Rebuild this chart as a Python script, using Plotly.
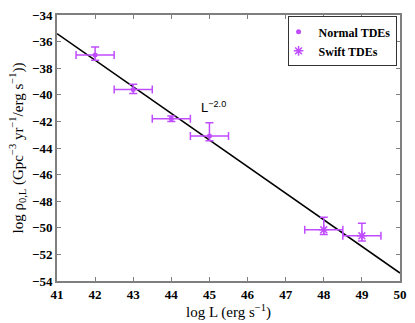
import plotly.graph_objects as go

# Normal TDEs
normal_logL = [42, 43, 44, 45]
normal_rho = [-37.0, -39.6, -41.8, -43.1]
normal_err_up = [0.6, 0.4, 0.2, 1.0]
normal_err_down = [0.4, 0.3, 0.2, 0.35]
normal_err_x = [0.5, 0.5, 0.5, 0.5]

# Swift TDEs
swift_logL = [48, 49]
swift_rho = [-50.15, -50.6]
swift_err_up = [0.95, 0.95]
swift_err_down = [0.35, 0.4]
swift_err_x = [0.5, 0.5]

# power-law fit, slope -2.0
fit_logL = [41, 50]
fit_rho = [-35.4, -53.4]

purple = "#c04cff"
serif = "Liberation Serif, Times New Roman, serif"

fig = go.Figure()

fig.add_trace(go.Scatter(
    x=fit_logL, y=fit_rho, mode="lines",
    line=dict(color="black", width=1.5), showlegend=False, hoverinfo="skip"
))

fig.add_trace(go.Scatter(
    x=normal_logL, y=normal_rho, mode="markers", name="<b>Normal TDEs</b>",
    marker=dict(symbol="circle", size=5, color=purple),
    error_y=dict(type="data", symmetric=False, array=normal_err_up,
                 arrayminus=normal_err_down, color=purple, thickness=1.5, width=4),
    error_x=dict(type="data", array=normal_err_x, color=purple, thickness=1.5, width=4),
))

fig.add_trace(go.Scatter(
    x=swift_logL, y=swift_rho, mode="markers", name="<b>Swift TDEs</b>",
    marker=dict(symbol="asterisk-open", size=8, color=purple,
                line=dict(color=purple, width=1.5)),
    error_y=dict(type="data", symmetric=False, array=swift_err_up,
                 arrayminus=swift_err_down, color=purple, thickness=1.5, width=4),
    error_x=dict(type="data", array=swift_err_x, color=purple, thickness=1.5, width=4),
))

fig.add_annotation(
    x=45.1, y=-40.9, text="L<sup>−2.0</sup>", showarrow=False,
    font=dict(family="Liberation Sans, Arial, sans-serif", size=13, color="black")
)

axis_common = dict(
    showgrid=False, zeroline=False, showline=True, linecolor="#7f7f7f",
    linewidth=2, mirror="ticks", ticks="inside", ticklen=4, tickcolor="#7f7f7f",
    tickprefix="<b>", ticksuffix="</b>",
    tickfont=dict(family=serif, size=13, color="black"),
)

fig.update_layout(
    width=415, height=323,
    margin=dict(l=57, r=8, t=11, b=38),
    paper_bgcolor="white", plot_bgcolor="white",
    xaxis=dict(range=[41, 50], dtick=1, tick0=41,
               title=dict(text="log L (erg s<sup>−1</sup>)", standoff=3,
                          font=dict(family=serif, size=15, color="black")),
               **axis_common),
    yaxis=dict(range=[-54, -34], dtick=2, tick0=-54,
               title=dict(text="log ρ<sub>0,L</sub> (Gpc<sup>−3</sup> yr<sup>−1</sup>/erg s<sup>−1</sup>))",
                          standoff=5, font=dict(family=serif, size=15, color="black")),
               **axis_common),
    legend=dict(x=0.99, y=0.995, xanchor="right", yanchor="top",
                bgcolor="white", bordercolor="#333333", borderwidth=1,
                font=dict(family=serif, size=12, color="black"),
                itemwidth=30, tracegroupgap=0, indentation=-10),
    showlegend=True,
)

fig.write_html("out.html", config={"displayModeBar": False},
               post_script="document.body.style.margin='0';")
